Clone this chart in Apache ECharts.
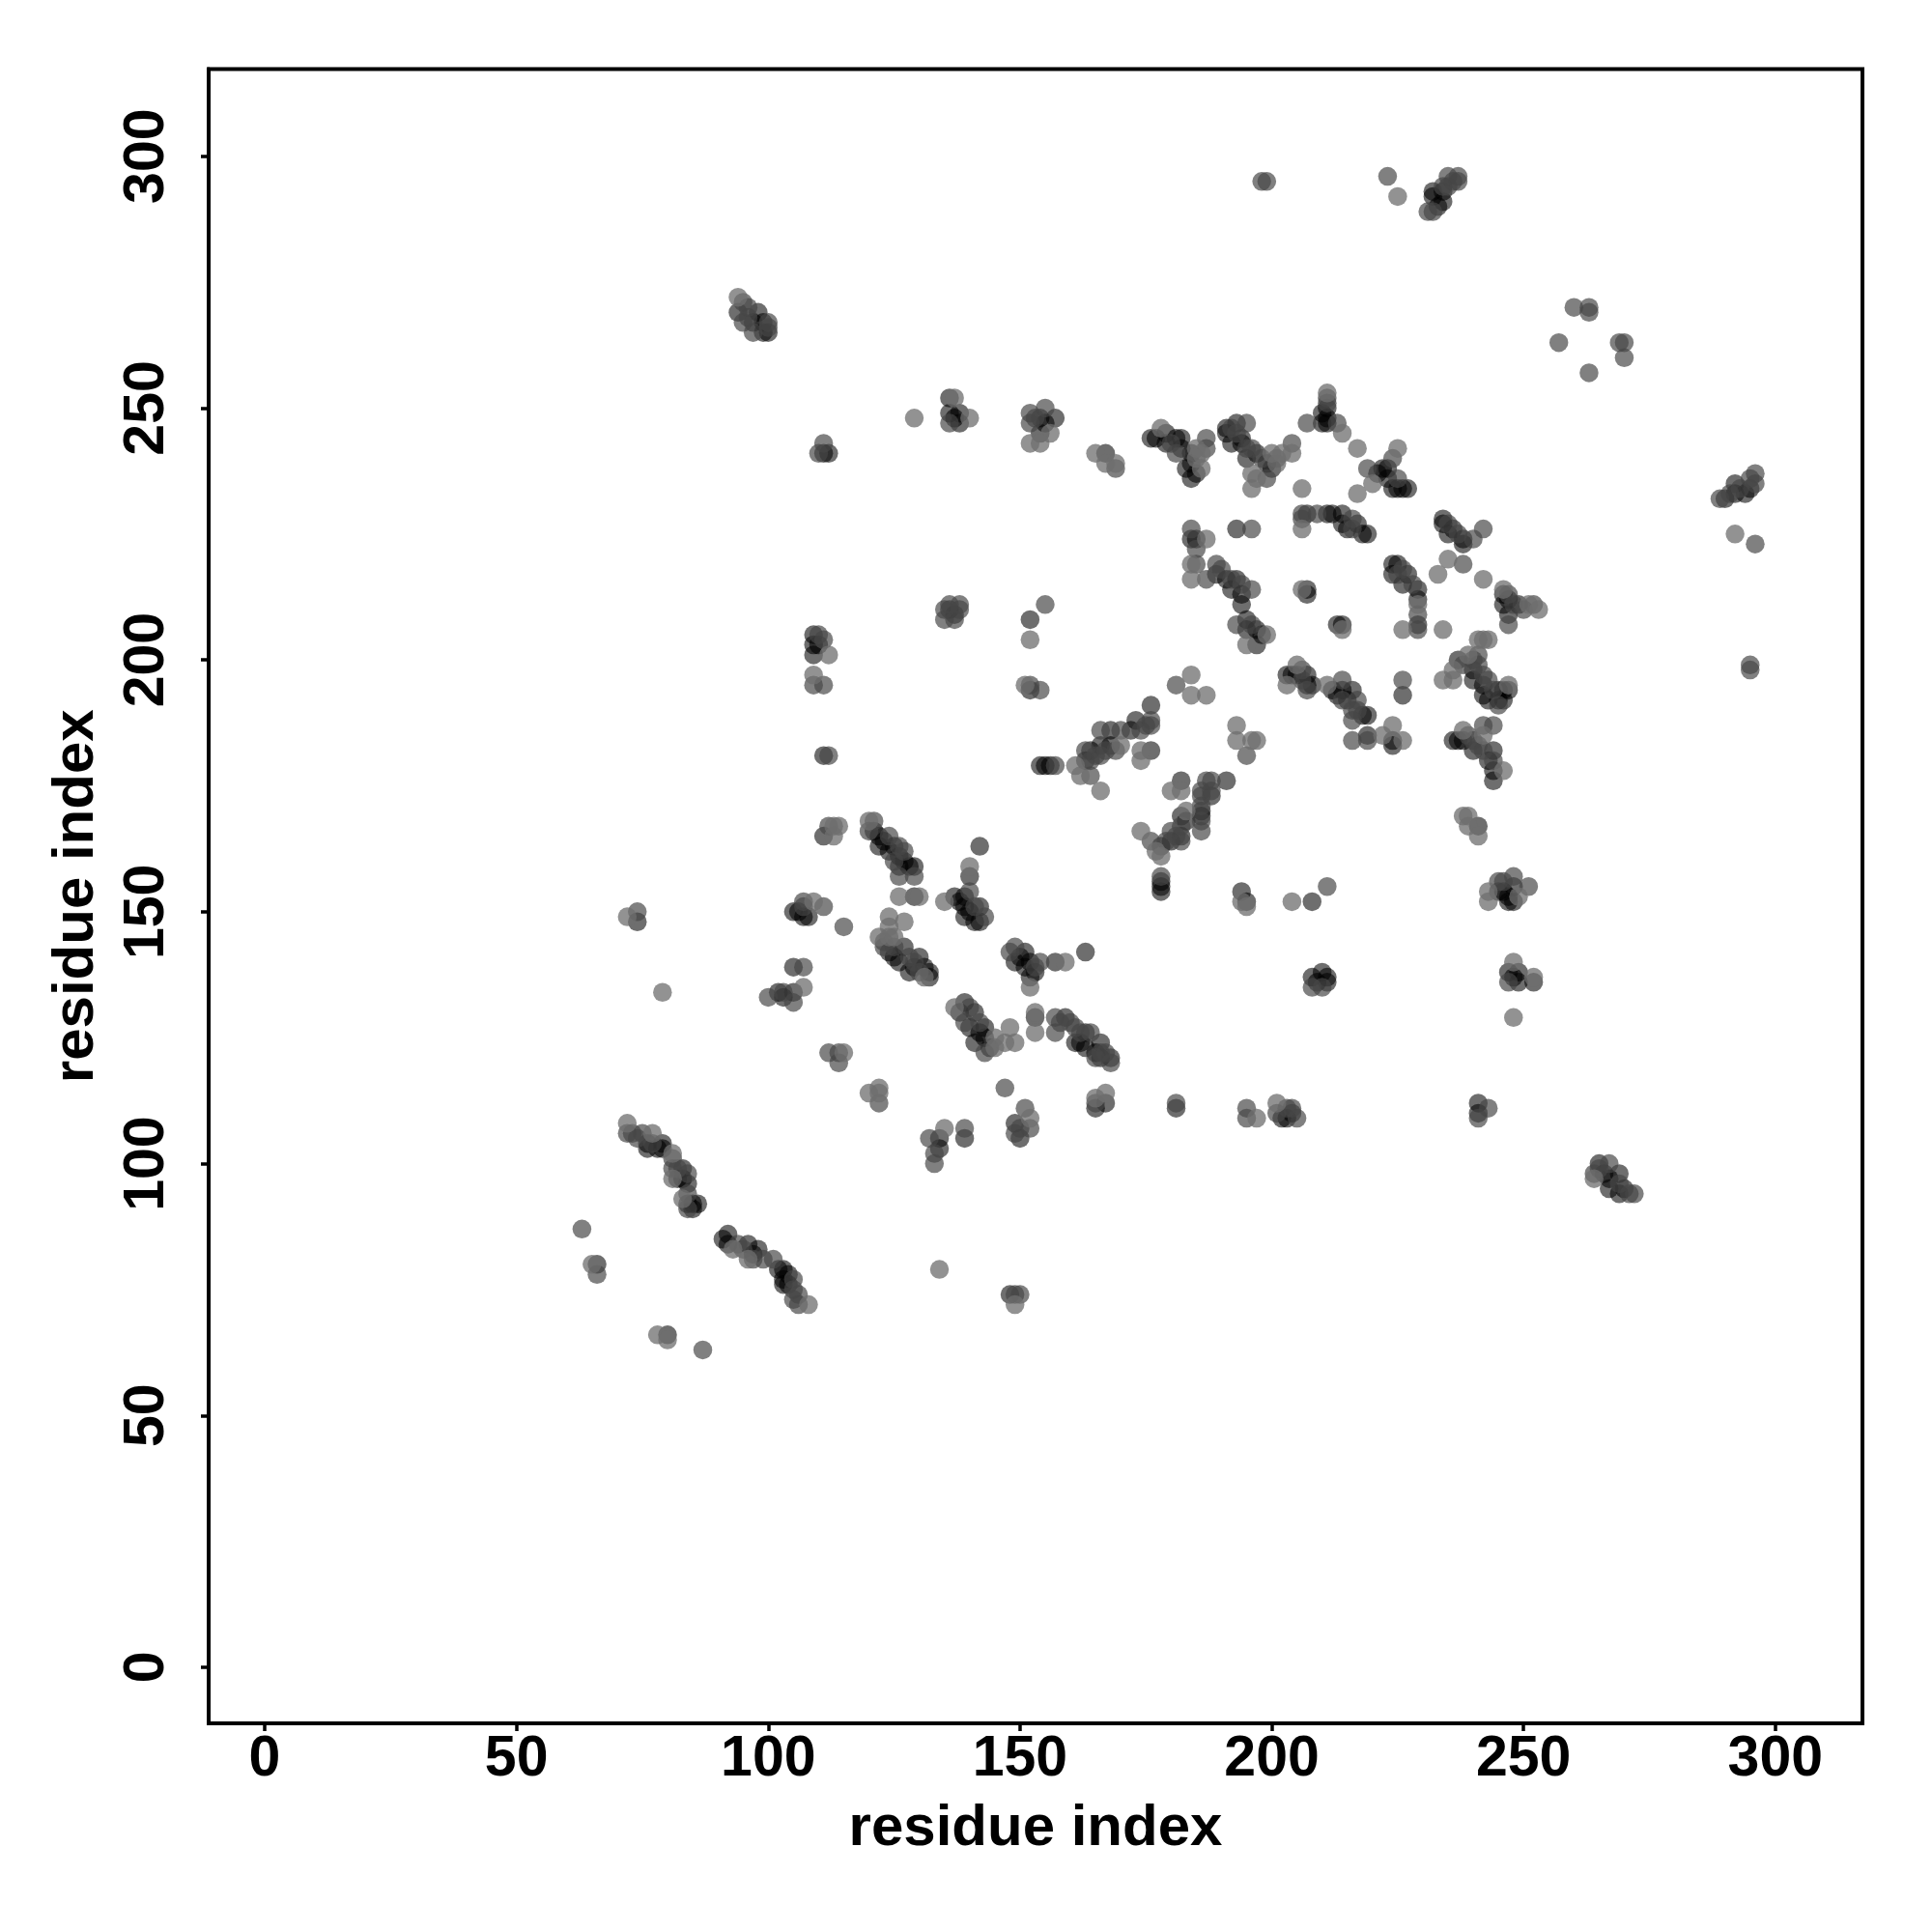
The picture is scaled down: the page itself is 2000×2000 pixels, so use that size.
<!DOCTYPE html>
<html><head><meta charset="utf-8">
<style>html,body{margin:0;background:#fff}#c{width:2000px;height:2000px}</style>
<script src="https://cdn.jsdelivr.net/npm/echarts@6/dist/echarts.min.js"></script>
</head><body><div id="c"></div>
<script>
// each point: [residue x, residue y, shade level] (0 light, 1 mid, 2 dark)
const tickValues = [0, 50, 100, 150, 200, 250, 300];
const axisTitle = 'residue index';
const bandLowLeft = [[63,87,1],[65,80,0],[66,78,1],[66,80,2],[78,66,0],[80,65,0],[80,66,2],[87,63,1]];
const band72 = [[72,106,1],[73,106,1],[74,105,1],[76,103,2],[76,104,2],[72,108,0],[75,106,1],[77,104,1],[78,103,2],[77,106,0],[79,103,2],[79,104,2],[81,102,0],[81,101,1],[81,99,1],[82,99,1],[82,97,2],[81,97,0],[83,97,2],[83,99,2],[84,96,2],[84,98,1],[84,94,1],[83,93,0],[84,92,2],[85,92,2],[85,91,2],[84,91,1],[86,92,2]];
const band91 = [[92,86,2],[91,85,2],[92,84,2],[94,84,1],[93,83,0],[95,83,1],[96,84,2],[97,82,2],[98,83,2],[96,81,0],[97,81,1],[99,81,1],[101,81,1],[102,79,2],[103,79,2],[104,78,2],[103,76,2],[104,76,2],[103,77,2],[105,77,1],[106,74,1],[105,75,1],[105,73,1],[106,72,1],[108,72,0]];
const clusterA = [[120,114,0],[122,115,0],[122,114,0],[122,112,1],[112,122,1],[114,122,1],[115,122,0],[114,120,1],[134,79,0],[147,115,1],[148,74,2],[149,74,1],[150,74,1],[149,72,0],[132,105,1],[134,105,2],[134,103,2],[133,102,1],[133,100,1],[135,107,0],[139,105,2],[139,107,1],[150,105,2],[149,106,1],[149,108,2],[150,107,1],[152,107,1],[151,111,1],[152,109,0]];
const clusterB = [[165,111,2],[165,112,1],[167,112,2],[165,113,0],[167,114,0],[181,111,2],[181,112,1],[195,111,1],[195,109,1],[197,109,0],[201,110,1],[202,109,2],[203,109,2],[205,109,1],[204,110,2],[204,111,1],[203,111,1],[201,112,0],[241,109,1],[241,110,2],[241,112,2],[243,111,1]];
const clusterC = [[142,163,2],[140,157,2],[140,159,0],[140,154,1],[137,153,2],[138,152,2],[139,151,2],[139,153,2],[139,149,2],[140,150,2],[141,151,1],[135,152,0],[141,148,2],[142,148,2],[142,151,2],[143,149,1],[129,153,2],[130,153,0],[126,153,0]];
const band120 = [[120,166,1],[121,166,2],[120,168,0],[121,168,1],[122,165,2],[123,164,2],[122,163,2],[124,162,2],[125,163,2],[124,165,1],[126,161,2],[127,160,2],[128,159,2],[127,162,1],[125,160,1],[126,163,1],[126,159,2],[126,157,1],[129,159,2],[129,157,1]];
const clusterD = [[112,167,1],[113,167,0],[114,167,0],[111,165,2],[113,165,0],[105,150,2],[106,150,2],[107,149,2],[108,149,2],[107,151,1],[107,152,1],[109,152,0],[111,151,1],[115,147,1],[105,139,2],[107,139,1],[100,133,1],[102,134,2],[103,133,2],[103,134,1],[105,132,1],[105,134,2],[107,135,0],[72,149,0],[74,148,2],[74,150,1],[79,134,0]];
const band122 = [[123,144,1],[123,143,1],[124,142,2],[125,141,2],[125,143,1],[127,143,2],[126,140,2],[128,141,1],[129,140,1],[128,138,2],[130,141,2],[130,138,1],[129,139,2],[131,139,2],[132,138,2],[132,137,2],[131,137,0],[122,145,0],[124,145,0],[125,145,0],[124,147,0],[124,149,0],[127,148,0]];
const band148 = [[148,142,1],[149,143,1],[150,141,2],[149,140,2],[151,142,2],[151,139,2],[152,140,2],[152,137,2],[153,138,2],[152,135,0],[153,139,1],[154,140,1],[157,140,2],[159,140,0],[163,142,2]];
const band137 = [[137,131,0],[138,130,2],[139,132,2],[140,131,1],[141,130,2],[139,128,1],[140,127,2],[142,128,1],[143,127,2],[142,126,2],[141,124,2],[143,125,2],[144,123,2],[143,122,1],[145,125,0],[145,123,0],[147,124,0],[148,127,0],[149,124,0],[153,129,2],[153,130,0],[153,126,0]];
const band156 = [[157,129,1],[157,126,1],[159,129,2],[158,128,1],[160,128,1],[161,127,1],[161,124,2],[162,124,2],[162,126,1],[163,126,2],[163,123,2],[164,126,1],[165,122,2],[166,124,2],[165,121,1],[167,122,1],[166,121,2],[166,122,1],[168,120,1],[168,121,2]];
const riseLow = [[155,179,2],[156,179,2],[154,179,2],[157,179,1],[161,179,0],[162,177,0],[163,180,2],[164,177,1],[163,182,1],[164,182,2],[164,180,1],[165,181,1],[166,181,1],[166,183,2],[167,182,1],[166,174,0],[168,183,2],[169,182,1],[170,183,0],[166,186,1],[168,186,2],[170,186,1],[172,186,2],[173,188,2],[174,186,1],[175,187,1],[176,187,1],[176,188,1],[176,191,2],[174,180,0],[174,182,0],[176,182,2]];
const riseHigh = [[174,166,0],[176,164,1],[177,162,0],[178,161,0],[178,163,2],[179,164,1],[180,164,2],[180,166,1],[181,165,1],[182,164,1],[182,165,2],[183,168,2],[182,167,1],[182,169,2],[183,170,0],[186,166,1],[186,168,1],[186,169,2],[186,170,2],[186,171,1],[186,173,1],[186,174,1],[188,173,2],[188,174,1],[188,176,1],[187,176,1],[191,176,2],[180,174,0],[182,174,0],[182,176,2],[178,154,2],[178,155,2],[178,156,2],[178,157,1]];
const scatterMid = [[181,195,1],[184,197,0],[184,193,0],[187,193,0],[193,187,0],[193,184,0],[196,184,0],[197,184,0],[195,181,1],[194,154,2],[194,152,0],[195,151,0],[195,152,2],[204,152,0],[208,152,2],[211,155,1],[208,135,1],[210,135,1],[208,137,2],[209,136,2],[210,138,2],[211,136,2],[211,137,2],[248,129,0]];
const band203 = [[203,195,0],[203,197,2],[204,197,2],[205,199,0],[205,197,2],[206,198,1],[206,196,1],[207,194,1],[207,195,2],[207,197,2],[208,195,2],[211,195,0],[212,194,2],[213,193,2],[214,194,2],[214,192,1],[214,196,1],[215,192,2],[216,194,2],[216,190,1],[217,192,1],[217,190,1],[218,189,2],[219,189,2],[216,188,1],[216,184,1],[219,184,1],[219,185,2],[222,185,0],[224,183,2],[224,184,2],[224,187,0],[226,184,0],[226,193,2],[226,196,1]];
const band234 = [[234,196,0],[236,196,0],[236,198,0],[237,200,2],[238,199,1],[239,201,0],[240,196,2],[240,198,2],[240,200,1],[241,201,1],[241,199,1],[241,204,0],[242,204,0],[243,204,0],[242,193,2],[242,195,2],[242,197,1],[243,192,2],[243,196,1],[244,194,1],[245,191,1],[245,192,2],[245,194,2],[246,192,2],[246,194,2],[247,194,2],[247,195,0]];
const band236 = [[236,184,2],[237,184,2],[238,184,2],[238,186,0],[239,185,1],[240,182,2],[240,184,1],[241,183,1],[242,182,1],[242,185,0],[242,187,1],[244,187,1],[243,180,2],[244,182,2],[244,180,1],[244,176,2],[244,178,2],[246,178,0],[238,169,0],[239,169,0],[239,167,0],[241,165,0],[241,167,2]];
const cluster245 = [[243,152,0],[243,154,0],[245,154,2],[245,156,1],[246,154,2],[246,156,1],[247,152,2],[247,153,2],[248,152,2],[248,155,2],[248,157,1],[249,153,0],[251,155,1],[248,140,0],[247,136,1],[247,138,2],[249,136,2],[249,138,2],[248,137,2],[252,136,2],[252,137,0]];
const cluster264 = [[264,97,0],[264,98,1],[265,100,2],[266,98,2],[265,99,1],[267,97,2],[267,95,2],[267,100,1],[269,94,2],[269,98,2],[269,96,1],[270,95,2],[271,94,1],[272,94,1]];
const band176 = [[176,244,2],[177,244,2],[179,243,2],[179,245,2],[178,246,0],[180,243,1],[181,244,2],[181,241,1],[182,244,2],[182,242,2],[183,238,2],[184,236,2],[184,239,2],[184,241,2],[185,237,2],[185,240,0],[185,242,0],[186,238,0],[186,241,0],[187,242,1],[187,244,1]];
const band191 = [[191,245,2],[191,246,2],[192,243,2],[192,246,1],[193,247,2],[194,243,2],[194,244,2],[193,245,1],[195,247,1],[195,240,2],[195,242,1],[196,242,1],[197,241,2],[198,240,1],[199,239,2],[199,236,1],[200,238,2],[196,237,0],[197,236,0],[196,234,0],[201,240,1],[200,241,0],[201,239,0],[202,241,0],[204,241,0],[204,243,1],[206,234,0]];
const stack211 = [[207,247,1],[210,247,2],[210,249,2],[211,247,2],[211,248,2],[211,250,2],[211,251,1],[211,252,1],[211,253,0],[213,247,1],[214,245,0],[217,242,0],[217,233,0]];
const band219 = [[219,238,1],[220,235,0],[222,238,2],[221,237,2],[223,238,2],[223,236,2],[224,240,1],[224,234,2],[225,236,1],[225,234,2],[226,234,2],[227,234,2],[225,242,0]];
const row229 = [[206,226,0],[206,228,1],[206,229,1],[207,229,2],[209,229,1],[211,229,2],[212,229,2],[214,229,2],[214,227,2],[215,226,2],[216,226,1],[216,228,1],[217,227,2],[218,225,2],[219,225,2]];
const column184 = [[184,226,1],[184,224,2],[185,224,2],[187,224,0],[185,222,1],[184,219,0],[185,219,1],[184,216,0],[187,216,1],[193,226,2],[196,226,1]];
const band189 = [[189,219,1],[189,217,2],[190,218,1],[191,216,2],[192,214,2],[193,216,2],[192,216,1],[194,213,2],[194,215,1],[194,211,2],[196,214,1],[193,207,1],[195,206,2],[195,208,2],[196,207,1],[197,206,2],[197,203,2],[195,203,0],[198,205,2],[199,205,0]];
const inner206 = [[206,214,0],[207,213,2],[207,214,2],[213,207,2],[214,206,0],[214,207,2]];
const band224 = [[224,217,2],[224,219,2],[225,219,2],[225,217,1],[226,215,2],[226,218,1],[227,217,2],[228,215,1],[229,206,1],[229,207,2],[229,209,1],[229,211,0],[229,212,2],[229,214,2],[226,206,0],[234,206,0]];
const band234b = [[234,227,2],[234,228,2],[235,225,2],[235,227,1],[236,226,2],[237,225,1],[238,223,2],[238,224,2],[240,224,1],[242,226,1],[235,220,0],[238,219,1],[233,217,0],[242,216,0]];
const band246 = [[246,214,0],[246,213,2],[246,211,2],[247,213,1],[247,212,2],[247,209,2],[247,207,1],[248,211,1],[249,211,2],[250,210,1],[251,211,0],[252,211,1],[253,210,0]];
const topLeft = [[94,269,2],[95,267,1],[96,268,1],[97,265,1],[97,267,2],[94,272,0],[95,271,1],[96,270,1],[98,269,2],[99,265,2],[99,267,2],[100,265,2],[100,267,1],[100,266,1]];
const rowMid = [[110,241,1],[111,241,2],[112,241,2],[111,243,1],[129,248,0],[136,247,1],[136,249,2],[136,252,2],[137,252,0],[137,248,2],[138,247,2],[138,249,2],[140,248,0]];
const row152 = [[152,247,1],[152,249,1],[153,248,1],[154,248,2],[155,247,2],[154,245,2],[156,245,0],[152,243,0],[154,243,0],[155,250,1],[157,248,2],[165,241,0],[167,241,2],[167,239,0],[169,239,0],[169,238,1]];
const col109 = [[109,201,2],[109,203,2],[110,203,2],[109,205,2],[110,205,1],[111,204,1],[112,201,0],[109,195,1],[111,195,1],[109,197,0],[111,181,2],[112,181,1]];
const col152 = [[135,208,1],[137,208,1],[136,210,2],[137,209,2],[135,210,1],[136,211,1],[138,211,1],[138,210,1],[152,204,0],[152,208,2],[155,211,1],[151,195,0],[152,194,2],[152,195,1],[154,194,1]];
const topRight = [[198,295,1],[199,295,1],[223,296,1],[225,292,0],[231,289,1],[232,289,1],[232,292,2],[232,293,2],[233,290,2],[234,291,2],[234,293,2],[234,294,1],[235,294,1],[235,296,1],[236,295,1],[237,295,1],[237,296,1],[260,270,1],[263,270,1],[263,269,1],[257,263,1],[269,263,1],[270,263,1],[270,260,1],[263,257,1]];
const farRight = [[289,232,1],[290,232,2],[291,233,1],[292,233,2],[292,235,2],[293,234,1],[294,233,2],[295,234,2],[296,235,1],[296,237,1],[295,236,1],[292,225,0],[296,223,1],[295,198,1],[295,199,1]];

const shadeColors = ['rgba(110,110,110,0.94)', 'rgba(70,70,70,0.86)', 'rgba(0,0,0,0.71)'];
const drawOrder = [2, 1, 0];
const mergedPoints = [bandLowLeft, band72, band91, clusterA, clusterB, clusterC, band120, clusterD, band122, band148, band137, band156, riseLow, riseHigh, scatterMid, band203, band234, band236, cluster245, cluster264, band176, band191, stack211, band219, row229, column184, band189, inner206, band224, band234b, band246, topLeft, rowMid, row152, col109, col152, topRight, farRight].flat();
const allPoints = drawOrder.flatMap(level => mergedPoints.filter(p => p[2] === level));

const font = {fontFamily: '"Liberation Sans"', fontWeight: 'bold', color: '#000'};
const axisCommon = {
  type: 'value', min: -11.13, max: 317.3, name: axisTitle, nameLocation: 'middle',
  splitLine: {show: false},
  axisLine: {show: true, onZero: false, lineStyle: {color: '#000', width: 4}},
  axisTick: {show: true, length: 8, customValues: tickValues, lineStyle: {color: '#000', width: 3.5}}
};
const chart = echarts.init(document.getElementById('c'), null, {renderer: 'canvas'});
chart.setOption({
  animation: false,
  backgroundColor: '#fff',
  grid: {show: true, left: 216, top: 71.5, width: 1712, height: 1712.5, borderColor: '#000', borderWidth: 4, backgroundColor: 'transparent', containLabel: false},
  xAxis: Object.assign({}, axisCommon, {
    nameGap: 79, nameTextStyle: Object.assign({fontSize: 60}, font),
    axisLabel: Object.assign({fontSize: 59, margin: 8, customValues: tickValues}, font)
  }),
  yAxis: Object.assign({}, axisCommon, {
    nameGap: 107, nameRotate: 90, nameTextStyle: Object.assign({fontSize: 60}, font),
    axisLabel: Object.assign({fontSize: 59, margin: 34, rotate: 90, customValues: tickValues}, font)
  }),
  series: [{
    type: 'scatter', symbol: 'circle', symbolSize: 19.5, silent: true, large: false,
    data: allPoints.map(p => ({value: [p[0], p[1]], itemStyle: {color: shadeColors[p[2]]}}))
  }]
});
</script></body></html>
